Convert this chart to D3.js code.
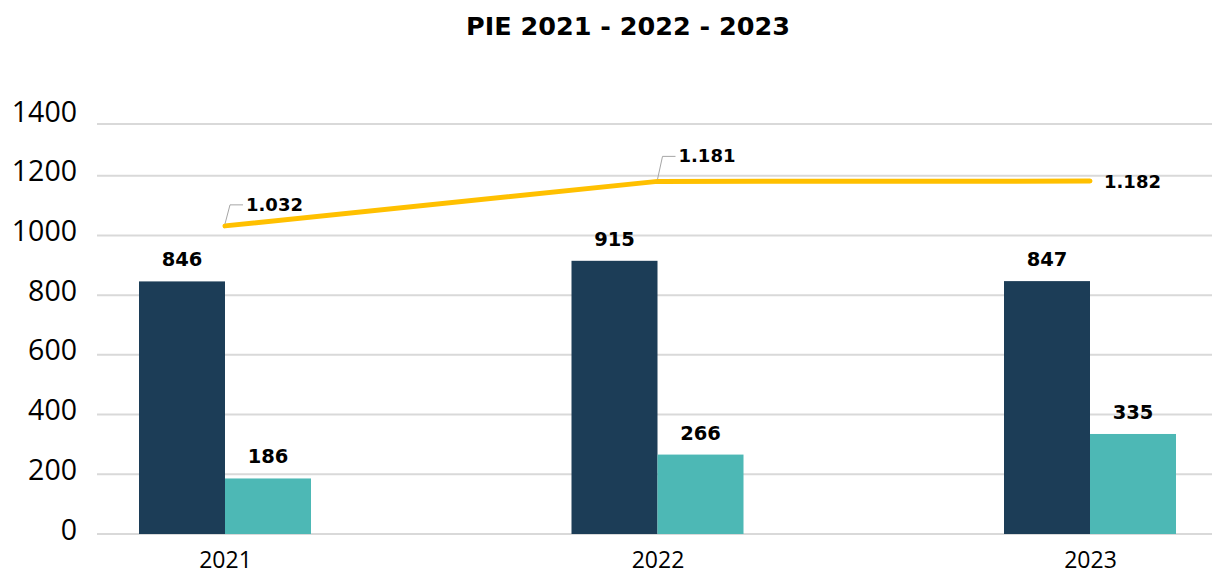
<!DOCTYPE html>
<html><head><meta charset="utf-8">
<script src="https://cdn.jsdelivr.net/npm/d3@7"></script>
<style>body{margin:0;background:#fff}svg{display:block}</style>
</head><body>
<svg id="c" width="1214" height="578"></svg>
<script>
const categories = ["2021", "2022", "2023"];
const seriesA = [846, 915, 847];
const seriesB = [186, 266, 335];
const lineValues = [1032, 1181, 1182];
const lineLabels = ["1.032", "1.181", "1.182"];
const yTicks = [0, 200, 400, 600, 800, 1000, 1200, 1400];
const title = "PIE 2021 - 2022 - 2023";

const svg = d3.select("#c");
const plotLeft = 97, plotRight = 1212, plotTop = 124;
const y = d3.scaleLinear().domain([0, 1400]).range([534, 116]);
const x = d3.scalePoint().domain(categories).range([225, 1090]);
const inner = d3.scaleBand().domain(["a", "b"]).range([-86, 86]).padding(0);
const colA = "#1C3D57", colB = "#4DB8B5", colLine = "#FFC000";
const regFont = "'Open Sans', sans-serif";
const boldFont = "'DejaVu Sans', sans-serif";

svg.append("text").attr("x", 628).attr("y", 35).attr("text-anchor", "middle")
  .attr("font-family", boldFont).attr("font-weight", "bold").attr("font-size", 25.5)
  .attr("fill", "#000").text(title);

// gridlines
svg.append("g").selectAll("line").data(yTicks).join("line")
  .attr("x1", plotLeft).attr("x2", plotRight)
  .attr("y1", d => Math.max(y(d), plotTop)).attr("y2", d => Math.max(y(d), plotTop))
  .attr("stroke", "#D9D9D9").attr("stroke-width", 2);

// y axis labels
const yAxis = d3.axisLeft(y).tickValues(yTicks).tickFormat(d3.format("d")).tickSize(0).tickPadding(0);
const ya = svg.append("g").attr("transform", "translate(77,-4)").call(yAxis);
ya.select(".domain").remove();
ya.selectAll("text").attr("font-family", regFont).attr("font-size", 28.5).attr("fill", "#000");

// x axis labels
const xAxis = d3.axisBottom(x).tickSize(0).tickPadding(0);
const xa = svg.append("g").attr("transform", "translate(0,552)").call(xAxis);
xa.select(".domain").remove();
xa.selectAll("text").attr("font-family", regFont).attr("font-size", 23).attr("fill", "#000");

const data = categories.map((c, i) => ({c, a: seriesA[i], b: seriesB[i], l: lineValues[i], ll: lineLabels[i]}));

// bars
const bars = [];
data.forEach(d => { bars.push({c: d.c, k: "a", v: d.a}); bars.push({c: d.c, k: "b", v: d.b}); });
svg.append("g").selectAll("rect").data(bars).join("rect")
  .attr("x", d => x(d.c) + inner(d.k))
  .attr("width", inner.bandwidth())
  .attr("y", d => y(d.v))
  .attr("height", d => y(0) - y(d.v))
  .attr("fill", d => d.k === "a" ? colA : colB);

svg.append("g").selectAll("text").data(bars).join("text")
  .attr("x", d => x(d.c) + inner(d.k) + inner.bandwidth() / 2)
  .attr("y", d => y(d.v) - 15)
  .attr("text-anchor", "middle")
  .attr("font-family", boldFont).attr("font-weight", "bold").attr("font-size", 19.5)
  .attr("fill", "#000").text(d => d.v);

// line
const line = d3.line().x(d => x(d.c)).y(d => y(d.l));
svg.append("path").datum(data).attr("d", line)
  .attr("fill", "none").attr("stroke", colLine).attr("stroke-width", 5)
  .attr("stroke-linecap", "round").attr("stroke-linejoin", "round");

// line labels with leaders
const leaders = [[5, -21, 18], [5, -25, 18], null];
data.forEach((d, i) => {
  const px = x(d.c), py = y(d.l);
  const ld = leaders[i];
  if (ld) {
    svg.append("path")
      .attr("d", `M${px},${py - 2}L${px + ld[0]},${py + ld[1]}L${px + ld[2]},${py + ld[1]}`)
      .attr("fill", "none").attr("stroke", "#A6A6A6").attr("stroke-width", 1);
    svg.append("text").attr("x", px + ld[2] + 3).attr("y", py + ld[1] + 6)
      .attr("font-family", boldFont).attr("font-weight", "bold").attr("font-size", 18)
      .attr("fill", "#000").text(d.ll);
  } else {
    svg.append("text").attr("x", px + 14).attr("y", py + 7)
      .attr("font-family", boldFont).attr("font-weight", "bold").attr("font-size", 18)
      .attr("fill", "#000").text(d.ll);
  }
});
</script>
</body></html>
